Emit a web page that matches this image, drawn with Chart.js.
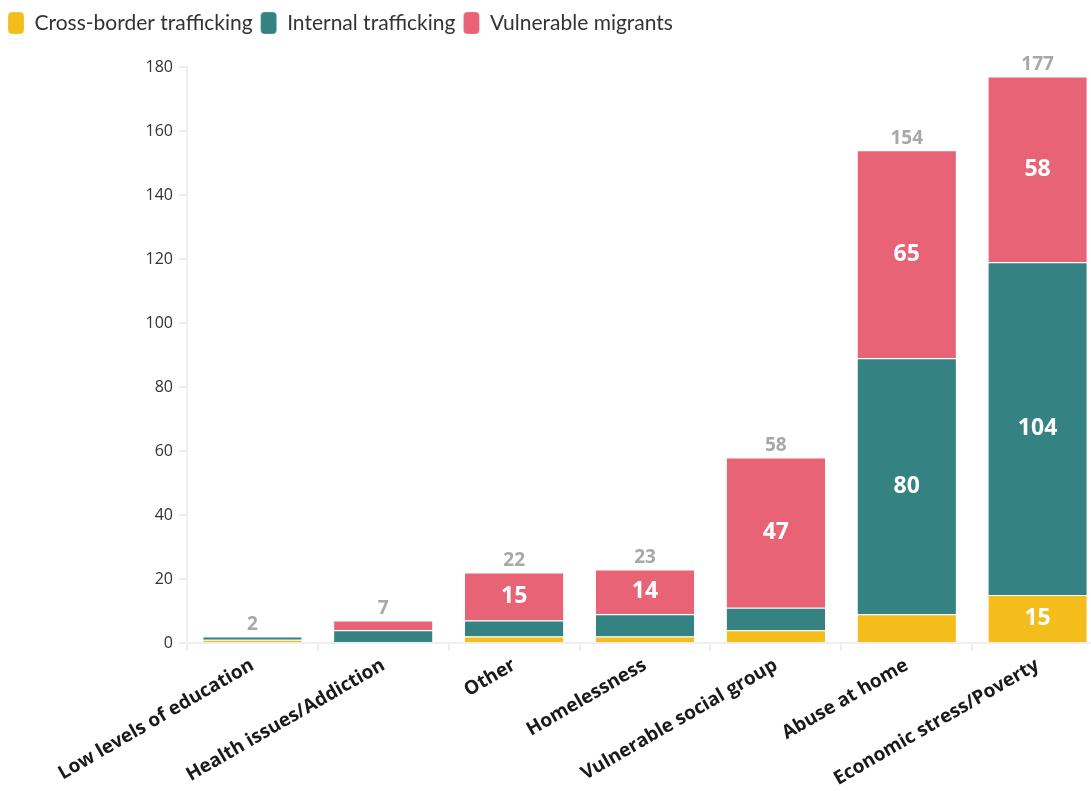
<!DOCTYPE html>
<html>
<head>
<meta charset="utf-8">
<script src="https://cdn.jsdelivr.net/npm/chart.js@4"></script>
<style>
  html, body { margin: 0; padding: 0; background: #fff; overflow: hidden; }
  #wrap { width: 1091px; height: 791px; overflow: hidden; }
</style>
</head>
<body>
<div id="wrap"><canvas id="chart" width="1106" height="791"></canvas></div>
<script>
const categories = ['Low levels of education', 'Health issues/Addiction', 'Other', 'Homelessness',
  'Vulnerable social group', 'Abuse at home', 'Economic stress/Poverty'];
const crossBorder = [1, 0, 2, 2, 4, 9, 15];
const internal = [1, 4, 5, 7, 7, 80, 104];
const migrants = [0, 3, 15, 14, 47, 65, 58];
const yTicks = [0, 20, 40, 60, 80, 100, 120, 140, 160, 180];

// labels drawn on the bars: value inside big segments, total above each stack
const barLabels = {
  id: 'barLabels',
  afterDatasetsDraw(chart) {
    const ctx = chart.ctx;
    ctx.save();
    ctx.textAlign = 'center';
    ctx.textBaseline = 'middle';
    chart.data.datasets.forEach((ds, i) => {
      chart.getDatasetMeta(i).data.forEach((bar, j) => {
        const v = ds.data[j];
        if (v < 10) return;
        ctx.fillStyle = '#fff';
        ctx.font = 'bold 23px "Open Sans"';
        ctx.fillText(v, bar.x, (bar.y + bar.base) / 2);
      });
    });
    const top = chart.getDatasetMeta(chart.data.datasets.length - 1).data;
    categories.forEach((c, j) => {
      const total = crossBorder[j] + internal[j] + migrants[j];
      const y = chart.scales.y.getPixelForValue(total);
      ctx.fillStyle = '#a8a8a8';
      ctx.font = 'bold 19px "Open Sans"';
      ctx.fillText(total, top[j].x, y - 12);
    });
    ctx.restore();
  }
};

function draw() {
  new Chart(document.getElementById('chart'), {
    type: 'bar',
    data: {
      labels: categories,
      datasets: [
        { label: 'Cross-border trafficking', data: crossBorder, backgroundColor: '#f3bd1c' },
        { label: 'Internal trafficking', data: internal, backgroundColor: '#358282' },
        { label: 'Vulnerable migrants', data: migrants, backgroundColor: '#e86375' }
      ].map(d => Object.assign(d, {
        borderColor: '#ffffff',
        borderWidth: { top: 1, bottom: 0, left: 0, right: 0 },
        borderSkipped: false,
        categoryPercentage: 0.752,
        barPercentage: 1
      }))
    },
    options: {
      responsive: false,
      animation: false,
      layout: { padding: { top: 4, right: 3, left: 0, bottom: 0 } },
      plugins: {
        legend: {
          position: 'top',
          align: 'start',
          labels: {
            font: { family: "'Lato'", size: 21 },
            color: '#333',
            boxWidth: 16,
            boxHeight: 22,
            useBorderRadius: true,
            borderRadius: 4,
            padding: 8
          }
        },
        tooltip: { enabled: false },
        title: { display: false }
      },
      scales: {
        x: {
          stacked: true,
          afterFit: s => { s.height = 148; },
          grid: { drawOnChartArea: false, color: '#eeeeee', lineWidth: 2, tickLength: 8 },
          border: { color: '#eeeeee', width: 2 },
          ticks: {
            maxRotation: 30, minRotation: 30,
            color: '#1a1a1a',
            font: { family: "'Open Sans'", size: 19, weight: 'bold' },
            autoSkip: false
          }
        },
        y: {
          stacked: true,
          min: 0, max: 180,
          afterFit: s => { s.width = 187; },
          afterBuildTicks: s => { s.ticks = yTicks.map(v => ({ value: v })); },
          grid: { drawOnChartArea: false, color: '#eeeeee', lineWidth: 2, tickLength: 8 },
          border: { color: '#eeeeee', width: 2 },
          ticks: {
            color: '#333',
            font: { family: "'Open Sans'", size: 16 },
            padding: 6
          }
        }
      }
    },
    plugins: [barLabels, {
      id: 'legendGap',
      beforeInit(chart) {
        const fit = chart.legend.fit;
        chart.legend.fit = function () { fit.call(this); this.height += 23; };
      }
    }]
  });
}

Promise.all([
  document.fonts.load('bold 19px "Open Sans"'),
  document.fonts.load('16px "Open Sans"'),
  document.fonts.load('21px "Lato"')
]).then(draw, draw);
</script>
</body>
</html>
